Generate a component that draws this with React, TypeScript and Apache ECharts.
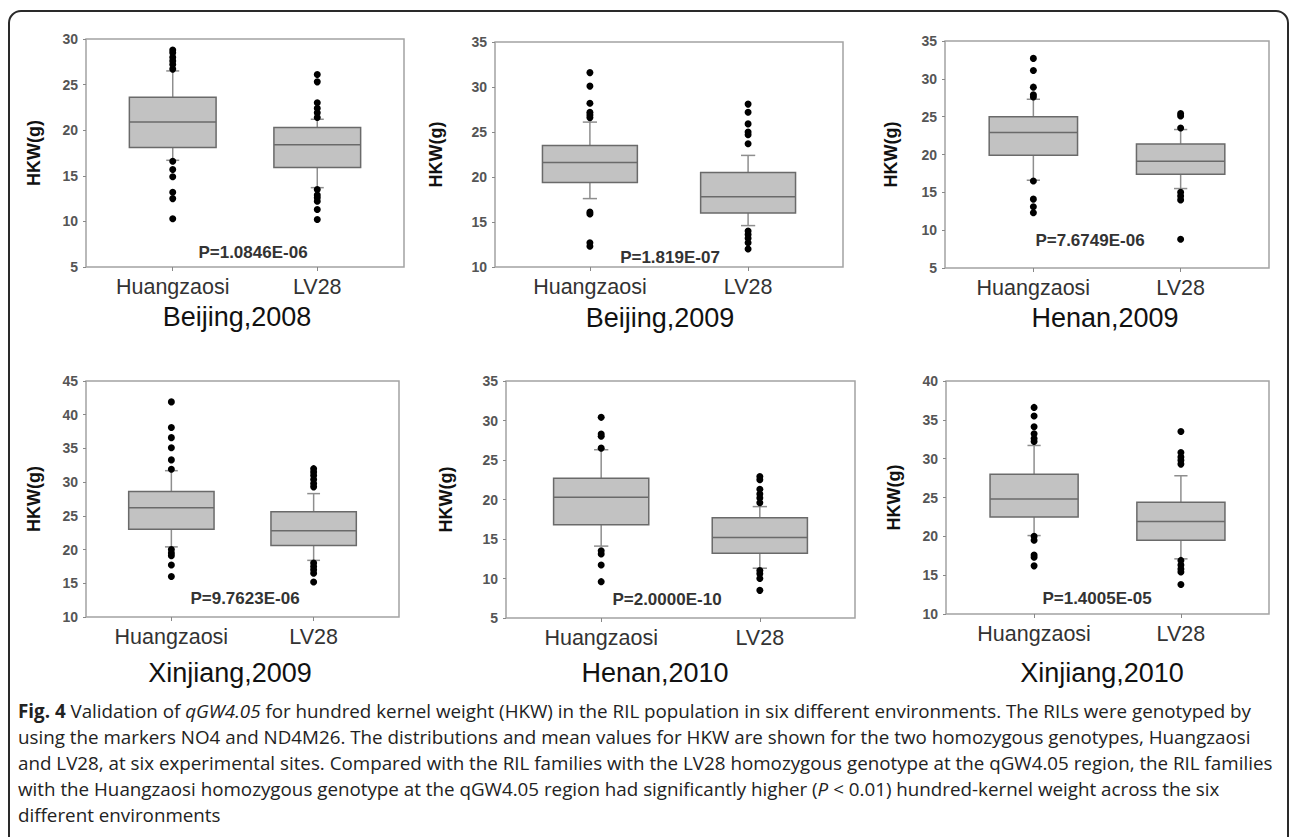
import React, { useEffect, useRef } from "react";
import * as echarts from "echarts";

// ---------- data ----------
const CATEGORIES = ["Huangzaosi", "LV28"];
const PANEL_TITLES = ["Beijing,2008", "Beijing,2009", "Henan,2009", "Xinjiang,2009", "Henan,2010", "Xinjiang,2010"];
const P_VALUES = ["P=1.0846E-06", "P=1.819E-07", "P=7.6749E-06", "P=9.7623E-06", "P=2.0000E-10", "P=1.4005E-05"];
const Y_MIN = [5, 10, 5, 10, 5, 10];
const Y_MAX = [30, 35, 35, 45, 35, 40];
const Y_INTERVAL = 5;

// [lower whisker, Q1, median, Q3, upper whisker]
const BJ08_HZ = [16.7, 18.1, 20.9, 23.6, 26.5];
const BJ08_LV = [13.7, 15.9, 18.4, 20.3, 21.2];
const BJ08_HZ_OUT = [28.8, 28.5, 28.0, 27.6, 27.2, 26.7, 16.6, 15.7, 14.9, 13.2, 12.5, 10.3];
const BJ08_LV_OUT = [26.1, 25.3, 23.0, 22.4, 21.9, 21.4, 13.5, 12.9, 12.6, 12.2, 11.3, 10.2];

const BJ09_HZ = [17.6, 19.4, 21.6, 23.5, 26.1];
const BJ09_LV = [14.6, 16.0, 17.8, 20.5, 22.4];
const BJ09_HZ_OUT = [31.6, 30.1, 28.2, 27.2, 26.9, 26.6, 16.1, 15.9, 12.7, 12.3];
const BJ09_LV_OUT = [28.1, 27.2, 25.9, 25.0, 24.7, 23.7, 14.0, 13.6, 13.2, 12.7, 12.0];

const HN09_HZ = [16.6, 19.9, 22.9, 25.0, 27.3];
const HN09_LV = [15.5, 17.4, 19.1, 21.4, 23.3];
const HN09_HZ_OUT = [32.7, 31.1, 28.9, 27.9, 27.6, 16.5, 14.1, 13.1, 12.3];
const HN09_LV_OUT = [25.4, 25.1, 23.5, 15.0, 14.5, 14.0, 8.8];

const XJ09_HZ = [20.4, 23.0, 26.2, 28.6, 31.7];
const XJ09_LV = [18.4, 20.6, 22.8, 25.6, 28.3];
const XJ09_HZ_OUT = [41.9, 38.1, 36.6, 35.1, 33.3, 31.9, 20.0, 19.5, 19.1, 17.7, 16.0];
const XJ09_LV_OUT = [32.0, 31.5, 31.0, 30.4, 29.8, 29.3, 18.0, 17.5, 17.0, 16.5, 15.2];

const HN10_HZ = [14.1, 16.8, 20.3, 22.7, 26.3];
const HN10_LV = [11.3, 13.2, 15.2, 17.7, 19.1];
const HN10_HZ_OUT = [30.4, 28.3, 28.0, 26.5, 13.5, 13.1, 11.7, 9.6];
const HN10_LV_OUT = [22.9, 22.5, 21.3, 20.7, 20.2, 19.6, 11.0, 10.6, 10.0, 8.5];

const XJ10_HZ = [20.1, 22.5, 24.8, 28.0, 31.7];
const XJ10_LV = [17.1, 19.5, 21.9, 24.4, 27.8];
const XJ10_HZ_OUT = [36.6, 35.5, 34.1, 33.2, 32.6, 32.2, 20.0, 19.5, 17.6, 17.3, 16.2];
const XJ10_LV_OUT = [33.5, 30.8, 30.2, 29.8, 29.3, 16.9, 16.3, 15.8, 15.4, 13.8];

const BOXES = [
  [BJ08_HZ, BJ08_LV],
  [BJ09_HZ, BJ09_LV],
  [HN09_HZ, HN09_LV],
  [XJ09_HZ, XJ09_LV],
  [HN10_HZ, HN10_LV],
  [XJ10_HZ, XJ10_LV],
];
const OUTLIERS = [
  [BJ08_HZ_OUT, BJ08_LV_OUT],
  [BJ09_HZ_OUT, BJ09_LV_OUT],
  [HN09_HZ_OUT, HN09_LV_OUT],
  [XJ09_HZ_OUT, XJ09_LV_OUT],
  [HN10_HZ_OUT, HN10_LV_OUT],
  [XJ10_HZ_OUT, XJ10_LV_OUT],
];

const CAPTION_LINES = [
  "{b|Fig. 4} Validation of {i|qGW4.05} for hundred kernel weight (HKW) in the RIL population in six different environments. The RILs were genotyped by",
  "using the markers NO4 and ND4M26. The distributions and mean values for HKW are shown for the two homozygous genotypes, Huangzaosi",
  "and LV28, at six experimental sites. Compared with the RIL families with the LV28 homozygous genotype at the qGW4.05 region, the RIL families",
  "with the Huangzaosi homozygous genotype at the qGW4.05 region had significantly higher ({i|P} < 0.01) hundred-kernel weight across the six",
  "different environments",
];

// ---------- layout ----------
const GRIDS = [
  { left: 86, top: 39, width: 318, height: 228 },
  { left: 495, top: 42, width: 348, height: 225 },
  { left: 945, top: 41, width: 324, height: 227 },
  { left: 86, top: 381, width: 313, height: 236 },
  { left: 506, top: 381, width: 349, height: 237 },
  { left: 946, top: 381, width: 323, height: 233 },
];
const NAME_GAPS = [43, 50, 45, 43, 51, 43];
const P_POS = [
  [253, 252], [670, 257], [1090, 240],
  [245, 598], [667, 599], [1097, 598],
];
const TITLE_POS = [
  [237, 317], [660, 318], [1105, 318],
  [230, 673], [655, 673], [1102, 673],
];
const CAPTION_X = 18;
const CAPTION_Y0 = 711;
const CAPTION_DY = 26;
const CAPTION_SIZE = 18.8;

const FONT = "'Liberation Sans', Arial, Helvetica, sans-serif";
const CAP_FONT = "'Open Sans', sans-serif";

function renderBox(params: any, api: any) {
  const x = api.value(0);
  const lw = api.value(1);
  const q1 = api.value(2);
  const med = api.value(3);
  const q3 = api.value(4);
  const uw = api.value(5);
  const half = 0.3;
  const cap = 0.045;
  const tl = api.coord([x - half, q3]);
  const br = api.coord([x + half, q1]);
  const cx = api.coord([x, med])[0];
  const capL = api.coord([x - cap, uw])[0];
  const capR = api.coord([x + cap, uw])[0];
  const yU = api.coord([x, uw])[1];
  const yL = api.coord([x, lw])[1];
  const yM = api.coord([x, med])[1];
  const wStyle = { stroke: "#8e8e8e", lineWidth: 1.5 };
  const bStyle = { stroke: "#6a6a6a", lineWidth: 1.5 };
  return {
    type: "group",
    children: [
      { type: "line", shape: { x1: cx, y1: yU, x2: cx, y2: tl[1] }, style: wStyle },
      { type: "line", shape: { x1: capL, y1: yU, x2: capR, y2: yU }, style: wStyle },
      { type: "line", shape: { x1: cx, y1: br[1], x2: cx, y2: yL }, style: wStyle },
      { type: "line", shape: { x1: capL, y1: yL, x2: capR, y2: yL }, style: wStyle },
      {
        type: "rect",
        shape: { x: tl[0], y: tl[1], width: br[0] - tl[0], height: br[1] - tl[1] },
        style: { fill: "#c2c2c2", ...bStyle },
      },
      { type: "line", shape: { x1: tl[0], y1: yM, x2: br[0], y2: yM }, style: bStyle },
    ],
  };
}

export default function App() {
  const ref = useRef<HTMLDivElement>(null);
  useEffect(() => {
    if (!ref.current) return;
    const chart = echarts.init(ref.current, null, { renderer: "svg" });

    const grid = GRIDS.map((g) => ({
      ...g,
      show: true,
      borderColor: "#a3a3a3",
      borderWidth: 1.5,
      containLabel: false,
    }));

    const xAxis = GRIDS.map((_, i) => ({
      type: "value",
      gridIndex: i,
      min: -0.6,
      max: 1.6,
      axisLine: { show: false, onZero: false },
      splitLine: { show: false },
      axisTick: { show: true, customValues: [0, 1], length: 4, lineStyle: { color: "#888" } },
      axisLabel: {
        customValues: [0, 1],
        formatter: (v: number) => CATEGORIES[Math.round(v)] ?? "",
        fontFamily: FONT,
        fontSize: 21.5,
        color: "#333",
        margin: 9,
      },
    }));

    const yAxis = GRIDS.map((_, i) => ({
      type: "value",
      gridIndex: i,
      min: Y_MIN[i],
      max: Y_MAX[i],
      interval: Y_INTERVAL,
      axisLine: { show: false, onZero: false },
      splitLine: { show: false },
      axisTick: { show: true, length: 3, lineStyle: { color: "#888" } },
      axisLabel: {
        fontFamily: FONT,
        fontSize: 14,
        fontWeight: "bold",
        color: "#555",
        margin: 8,
      },
      name: "HKW(g)",
      nameLocation: "middle",
      nameRotate: 90,
      nameGap: NAME_GAPS[i],
      nameTextStyle: { fontFamily: FONT, fontSize: 18, fontWeight: "bold", color: "#111" },
    }));

    const series: any[] = [];
    BOXES.forEach((pair, i) => {
      series.push({
        type: "custom",
        xAxisIndex: i,
        yAxisIndex: i,
        renderItem: renderBox,
        encode: { x: 0, y: [1, 2, 3, 4, 5] },
        data: pair.map((b, k) => [k, ...b]),
        z: 2,
        silent: true,
      });
      const pts: number[][] = [];
      OUTLIERS[i].forEach((vals, k) => vals.forEach((v) => pts.push([k, v])));
      series.push({
        type: "scatter",
        xAxisIndex: i,
        yAxisIndex: i,
        data: pts,
        symbol: "circle",
        symbolSize: 7,
        itemStyle: { color: "#000", opacity: 1 },
        z: 3,
        silent: true,
      });
    });

    const graphic: any[] = [
      {
        type: "rect",
        shape: { x: 9, y: 11, width: 1279, height: 900, r: 12 },
        style: { fill: "none", stroke: "#2a2a2a", lineWidth: 2 },
        silent: true,
      },
    ];
    P_VALUES.forEach((t, i) => {
      graphic.push({
        type: "text",
        x: P_POS[i][0],
        y: P_POS[i][1],
        style: {
          text: t,
          fontFamily: FONT,
          fontSize: 17,
          fontWeight: "bold",
          fill: "#333",
          align: "center",
          verticalAlign: "middle",
        },
        z: 10,
      });
    });
    PANEL_TITLES.forEach((t, i) => {
      graphic.push({
        type: "text",
        x: TITLE_POS[i][0],
        y: TITLE_POS[i][1],
        style: {
          text: t,
          fontFamily: FONT,
          fontSize: 27,
          fill: "#111",
          align: "center",
          verticalAlign: "middle",
        },
      });
    });
    CAPTION_LINES.forEach((t, i) => {
      graphic.push({
        type: "text",
        x: CAPTION_X,
        y: CAPTION_Y0 + i * CAPTION_DY,
        style: {
          text: t,
          fontFamily: CAP_FONT,
          fontSize: CAPTION_SIZE,
          fill: "#222",
          align: "left",
          verticalAlign: "middle",
          rich: {
            b: { fontFamily: CAP_FONT, fontSize: CAPTION_SIZE, fontWeight: "bold", fill: "#222", color: "#222" },
            i: { fontFamily: CAP_FONT, fontSize: CAPTION_SIZE, fontStyle: "italic", fill: "#222", color: "#222" },
          },
        },
      });
    });

    chart.setOption({
      animation: false,
      backgroundColor: "#fff",
      textStyle: { fontFamily: FONT },
      grid,
      xAxis,
      yAxis,
      series,
      graphic,
    });
    return () => chart.dispose();
  }, []);

  return (
    <div
      ref={ref}
      style={{ position: "fixed", left: 0, top: 0, width: 1290, height: 837 }}
    />
  );
}
